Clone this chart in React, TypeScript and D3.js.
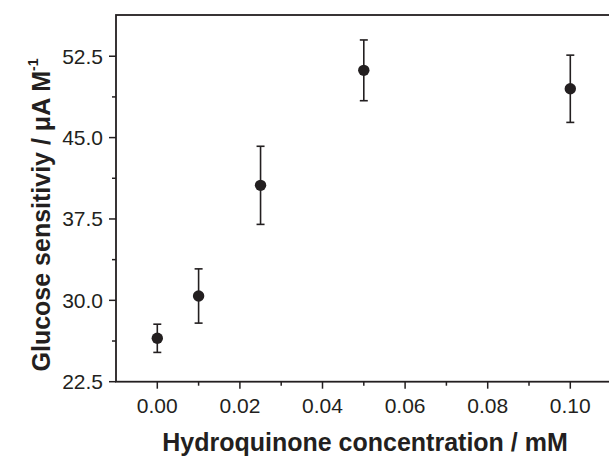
import React from "react";
import * as d3 from "d3";

const concentrations = [0, 0.01, 0.025, 0.05, 0.1];
const sensitivity = [26.5, 30.4, 40.6, 51.2, 49.5];
const errors = [1.3, 2.5, 3.6, 2.8, 3.1];
const xTickValues = [0, 0.02, 0.04, 0.06, 0.08, 0.1];
const xMinorValues = [0.01, 0.03, 0.05, 0.07, 0.09];
const yTickValues = [22.5, 30.0, 37.5, 45.0, 52.5];
const yMinorValues = [26.25, 33.75, 41.25, 48.75];

const W = 609;
const H = 456;
const left = 116;
const right = 611.6;
const top = 15;
const bottom = 381.7;
const ink = "#231f20";

export default function App() {
  const x = d3.scaleLinear().domain([-0.01, 0.11]).range([left, right]);
  const y = d3.scaleLinear().domain([22.5, 56.3]).range([bottom, top]);
  const fx = d3.format(".2f");
  const fy = d3.format(".1f");
  const font = "'Liberation Sans', Arial, Helvetica, sans-serif";

  return (
    <svg
      width={W}
      height={H}
      style={{ position: "absolute", left: 0, top: 0, background: "#fff" }}
      fontFamily={font}
    >
      <rect x={0} y={0} width={W} height={H} fill="#fff" />
      <rect
        x={left}
        y={top}
        width={right - left}
        height={bottom - top}
        fill="none"
        stroke={ink}
        strokeWidth={1.8}
      />
      {xTickValues.map((v) => (
        <g key={"xt" + v}>
          <line x1={x(v)} x2={x(v)} y1={bottom} y2={bottom + 7} stroke={ink} strokeWidth={1.5} />
          <text x={x(v)} y={412.5} textAnchor="middle" fontSize={21} fill={ink}>
            {fx(v)}
          </text>
        </g>
      ))}
      {xMinorValues.map((v) => (
        <line key={"xm" + v} x1={x(v)} x2={x(v)} y1={bottom} y2={bottom + 4} stroke={ink} strokeWidth={1.5} />
      ))}
      {yTickValues.map((v) => (
        <g key={"yt" + v}>
          <line x1={left - 7} x2={left} y1={y(v)} y2={y(v)} stroke={ink} strokeWidth={1.5} />
          <text x={103} y={y(v) + 7.5} textAnchor="end" fontSize={21} fill={ink}>
            {fy(v)}
          </text>
        </g>
      ))}
      {yMinorValues.map((v) => (
        <line key={"ym" + v} x1={left - 4} x2={left} y1={y(v)} y2={y(v)} stroke={ink} strokeWidth={1.5} />
      ))}
      {concentrations.map((c, i) => {
        const cx = x(c);
        const yt = y(sensitivity[i] + errors[i]);
        const yb = y(sensitivity[i] - errors[i]);
        return (
          <g key={"p" + i}>
            <line x1={cx} x2={cx} y1={yt} y2={yb} stroke={ink} strokeWidth={1.6} />
            <line x1={cx - 4} x2={cx + 4} y1={yt} y2={yt} stroke={ink} strokeWidth={1.6} />
            <line x1={cx - 4} x2={cx + 4} y1={yb} y2={yb} stroke={ink} strokeWidth={1.6} />
            <circle cx={cx} cy={y(sensitivity[i])} r={5.7} fill={ink} />
          </g>
        );
      })}
      <text x={365} y={451} textAnchor="middle" fontSize={25} fontWeight="bold" fill={ink}>
        Hydroquinone concentration / mM
      </text>
      <text
        transform="translate(50,215) rotate(-90)"
        textAnchor="middle"
        fontSize={25}
        fontWeight="bold"
        fill={ink}
      >
        Glucose sensitiviy / μA M
        <tspan fontSize={14} dy={-12}>-1</tspan>
      </text>
    </svg>
  );
}
